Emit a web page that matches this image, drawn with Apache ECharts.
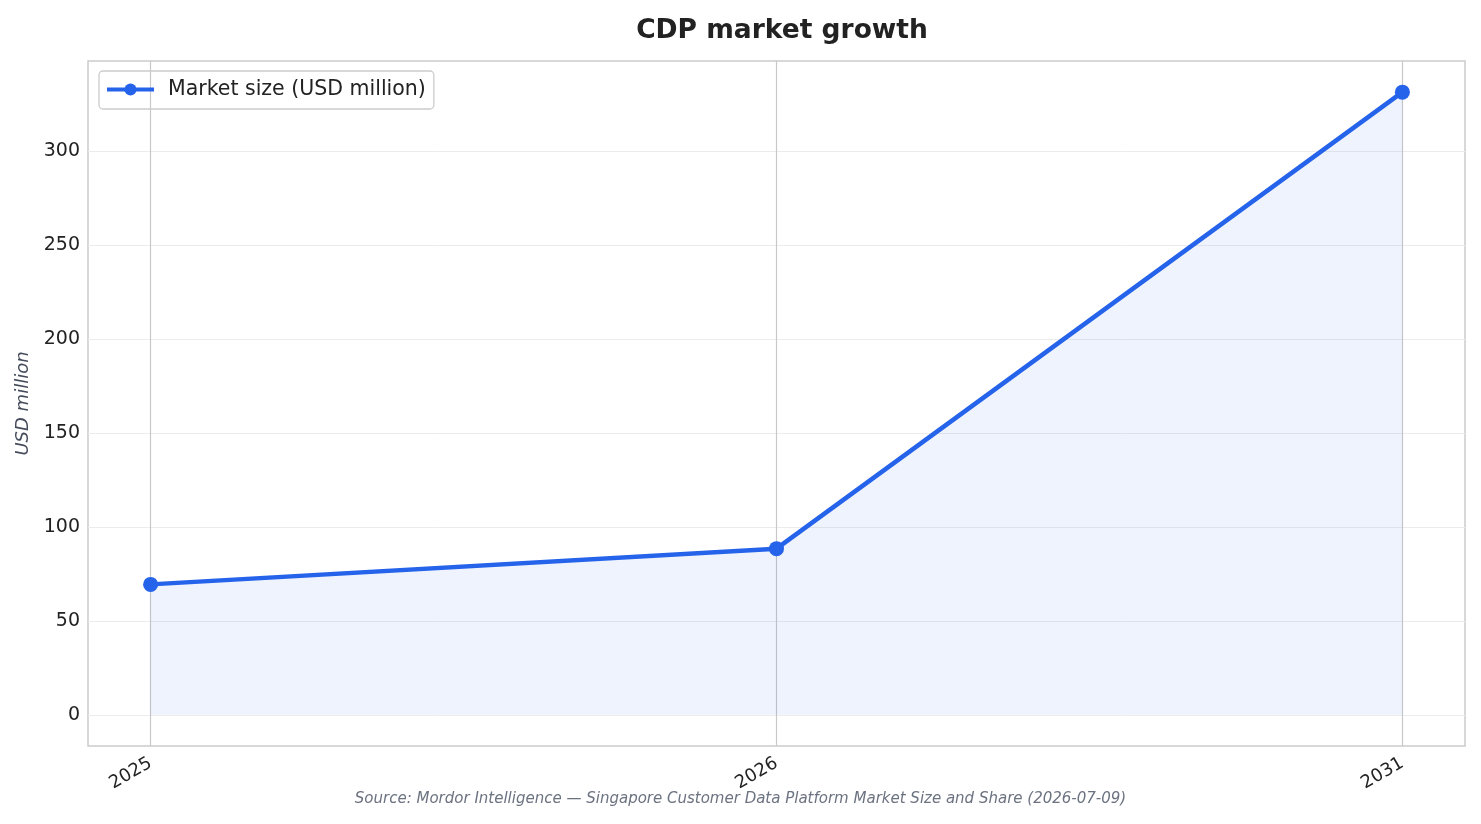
<!DOCTYPE html>
<html lang="en">
<head>
    <meta charset="UTF-8">
    <title>CDP market growth</title>
    <script src="https://cdn.jsdelivr.net/npm/echarts@6/dist/echarts.min.js"></script>
    <style>
        html, body { margin: 0; padding: 0; background: #fff; }
        #main { width: 1481px; height: 824px; }
    </style>
</head>
<body>
<div id="main"></div>

<script type="text/javascript">
    // data
    var years = ['2025', '2026', '2031'];
    var marketSize = [69.4, 88.4, 331.2];
    var yTicks = [0, 50, 100, 150, 200, 250, 300];

    var points = marketSize.map(function (v, i) { return [i, v]; });
    // matplotlib-like 5% margins
    var yPad = (Math.max.apply(null, marketSize) - 0) * 0.05;
    var font = 'DejaVu Sans';

    var myChart = echarts.init(document.getElementById('main'));
    var option = {
        backgroundColor: '#fff',
        textStyle: { fontFamily: font },
        title: {
            text: 'CDP market growth',
            left: 777, top: 13, textAlign: 'center',
            textStyle: { fontFamily: font, fontSize: 26.5, fontWeight: 'bold', color: '#222' }
        },
        legend: {
            left: 99, top: 71,
            padding: [8, 8, 9, 6],
            borderColor: '#cccccc', borderWidth: 1.3, borderRadius: 4,
            itemWidth: 47, itemHeight: 15,
            lineStyle: { width: 4 },
            textStyle: { fontFamily: font, fontSize: 20.5, color: '#222', padding: [0, 0, 0, 9] },
            data: ['Market size (USD million)']
        },
        grid: {
            left: 88, right: 16, top: 61, bottom: 78,
            show: true, borderColor: '#cccccc', borderWidth: 1.5
        },
        xAxis: {
            type: 'value',
            min: -0.1, max: years.length - 1 + 0.1,
            axisLine: { show: false },
            axisTick: { show: false, customValues: [0, 1, 2] },
            splitLine: { show: true, lineStyle: { color: '#c8c8c8', width: 1.2 } },
            axisLabel: {
                customValues: [0, 1, 2],
                rotate: 30, margin: 16,
                fontFamily: font, fontSize: 18, color: '#222',
                formatter: function (v) { return years[Math.round(v)]; }
            }
        },
        yAxis: {
            type: 'value',
            min: -yPad, max: Math.max.apply(null, marketSize) + yPad,
            name: 'USD million',
            nameLocation: 'middle', nameGap: 56, nameRotate: 90,
            nameTextStyle: { fontFamily: font, fontSize: 18, fontStyle: 'italic', color: '#444b5a' },
            axisLine: { show: false },
            axisTick: { show: false, customValues: yTicks },
            splitLine: { show: true, lineStyle: { color: '#ececec', width: 1 } },
            axisLabel: {
                customValues: yTicks,
                margin: 8,
                fontFamily: font, fontSize: 19, color: '#222'
            }
        },
        graphic: [{
            type: 'text',
            left: 'center', top: 792,
            style: {
                text: 'Source: Mordor Intelligence \u2014 Singapore Customer Data Platform Market Size and Share (2026-07-09)',
                font: 'italic 15px "DejaVu Sans"', fill: '#6b7280'
            }
        }],
        series: [{
            name: 'Market size (USD million)',
            type: 'line',
            data: points,
            symbol: 'circle', symbolSize: 15,
            lineStyle: { color: '#2563eb', width: 4.5 },
            itemStyle: { color: '#2563eb' },
            areaStyle: { color: 'rgba(37,99,235,0.11)', origin: 0 },
            z: 3
        }]
    };
    myChart.setOption(option);
</script>
</body>
</html>
